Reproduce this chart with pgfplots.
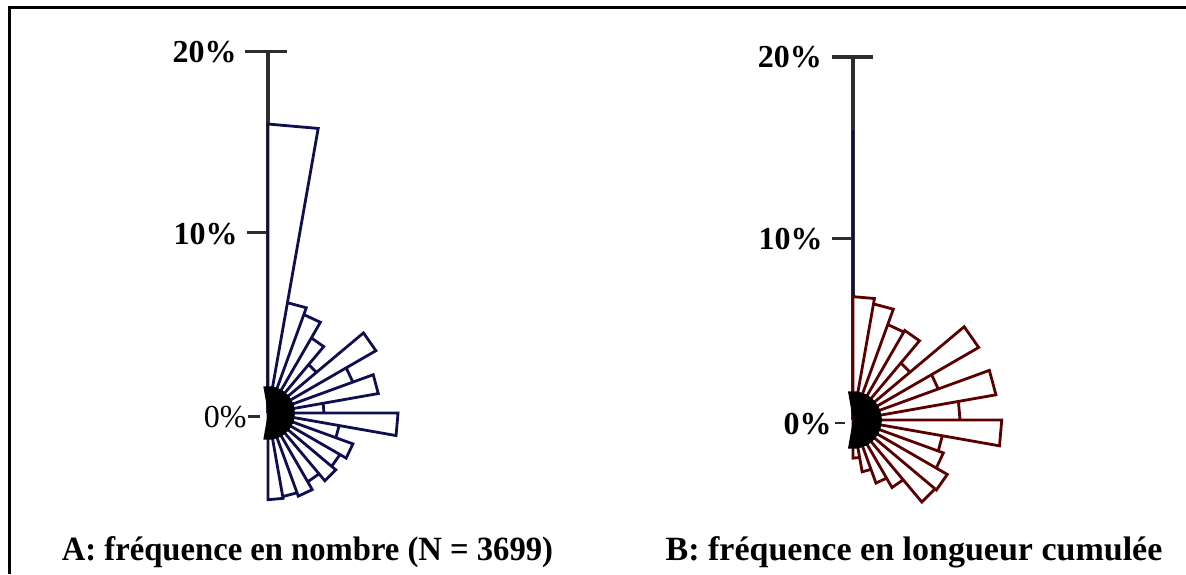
\documentclass[border=0pt]{standalone}
\usepackage{fontspec}
\setmainfont{Liberation Serif}
\usepackage{pgfplots}
\pgfplotsset{compat=1.18}
\usepackage{pgfplotstable}

\definecolor{navyline}{RGB}{15,15,80}
\definecolor{redline}{RGB}{90,0,0}
\definecolor{scalegray}{RGB}{45,45,45}

\newcommand\tickfont{\fontsize{16}{19}\selectfont}
\newcommand\capfont{\fontsize{17}{20}\selectfont\bfseries}

% half roses: bearing a (deg, clockwise from north), frequency r (%)
% each 10 deg class = two outer corners, then back to the centre
\pgfplotstableread{
a r
0 0
0 16.0
10 16.0
10 0
10 6.2
20 6.2
20 0
20 5.8
30 5.8
30 0
30 4.8
40 4.8
40 0
40 3.5
50 3.5
50 0
50 6.9
60 6.9
60 0
60 5.0
70 5.0
70 0
70 6.2
80 6.2
80 0
80 3.1
90 3.1
90 0
90 7.2
100 7.2
100 0
100 4.0
110 4.0
110 0
110 5.0
120 5.0
120 0
120 4.6
130 4.6
130 0
130 4.9
140 4.9
140 0
140 4.4
150 4.4
150 0
150 4.9
160 4.9
160 0
160 4.7
170 4.7
170 0
170 4.8
180 4.8
180 0
}\roseA

\pgfplotstableread{
a r
0 0
0 6.8
10 6.8
10 0
10 6.5
20 6.5
20 0
20 5.6
30 5.6
30 0
30 5.7
40 5.7
40 0
40 4.1
50 4.1
50 0
50 8.0
60 8.0
60 0
60 5.0
70 5.0
70 0
70 8.0
80 8.0
80 0
80 5.9
90 5.9
90 0
90 8.2
100 8.2
100 0
100 5.0
110 5.0
110 0
110 5.3
120 5.3
120 0
120 6.0
130 6.0
130 0
130 5.9
140 5.9
140 0
140 4.3
150 4.3
150 0
150 3.7
160 3.7
160 0
160 2.9
170 2.9
170 0
170 2.1
180 2.1
180 0
}\roseB

% dark core where the class boundaries meet
\pgfplotstableread{
a rA rB
0 0 0
-10 1.5 1.6
10 1.5 1.6
30 1.5 1.6
50 1.5 1.6
70 1.5 1.6
90 1.5 1.6
110 1.5 1.6
130 1.5 1.6
150 1.5 1.6
170 1.5 1.6
190 1.5 1.6
0 0 0
}\core

\pgfplotsset{rose/.style={hide axis, clip=false,
    xmin=-8, xmax=10, ymin=-8, ymax=21, anchor=origin}}

\begin{document}
\begin{tikzpicture}
\useasboundingbox (0,0) rectangle (593pt,287pt);
\draw[line width=1.5pt] (4.5pt,0) -- (4.5pt,283pt) -- (593pt,283pt);

% A
\begin{axis}[rose, at={(134pt,80.5pt)}, x=9.03pt, y=9.03pt]
\draw[scalegray, line width=1.7pt] (axis cs:0,0) -- (axis cs:0,20);
\draw[scalegray, line width=1.7pt] (axis cs:-1.27,20) -- (axis cs:1.05,20);
\draw[scalegray, line width=1.7pt] (axis cs:-1.16,10) -- (axis cs:0,10);
\draw[scalegray, line width=1.2pt] (axis cs:-1.1,-0.2) -- (axis cs:-0.45,-0.2);
\node[anchor=east, inner sep=0pt] at (axis cs:-1.72,20) {\tickfont\bfseries 20\%};
\node[anchor=east, inner sep=0pt] at (axis cs:-1.66,9.9) {\tickfont\bfseries 10\%};
\node[anchor=east, inner sep=0pt] at (axis cs:-1.16,-0.25) {\tickfont 0\%};
\addplot[draw=navyline, fill=white, line width=1.4pt, line join=miter,
    data cs=polar] table[x expr=90-\thisrow{a}, y=r] {\roseA};
\addplot[draw=none, fill=black, data cs=polar]
    table[x expr=90-\thisrow{a}, y=rA] {\core};
\end{axis}

% B
\begin{axis}[rose, at={(426.5pt,77pt)}, x=9.07pt, y=9.07pt]
\draw[scalegray, line width=1.7pt] (axis cs:0,0) -- (axis cs:0,20);
\draw[scalegray, line width=1.7pt] (axis cs:-1.16,20) -- (axis cs:1.1,20);
\draw[scalegray, line width=1.7pt] (axis cs:-1.16,10) -- (axis cs:0,10);
\draw[scalegray, line width=1.2pt] (axis cs:-1.0,-0.17) -- (axis cs:-0.45,-0.17);
\draw[navyline, line width=1pt] (axis cs:0,0) -- (axis cs:0,16);
\node[anchor=east, inner sep=0pt] at (axis cs:-1.7,20) {\tickfont\bfseries 20\%};
\node[anchor=east, inner sep=0pt] at (axis cs:-1.65,9.95) {\tickfont\bfseries 10\%};
\node[anchor=east, inner sep=0pt] at (axis cs:-1.16,-0.2) {\tickfont\bfseries 0\%};
\addplot[draw=redline, fill=white, line width=1.4pt, line join=miter,
    data cs=polar] table[x expr=90-\thisrow{a}, y=r] {\roseB};
\addplot[draw=none, fill=black, data cs=polar]
    table[x expr=90-\thisrow{a}, y=rB] {\core};
\end{axis}

\node[anchor=base, inner sep=0pt] at (153.75pt,7pt)
    {\capfont\scalebox{0.96}[1]{A: fréquence en nombre (N = 3699)}};
\node[anchor=base, inner sep=0pt] at (457pt,7pt)
    {\capfont B: fréquence en longueur cumulée};
\end{tikzpicture}
\end{document}
